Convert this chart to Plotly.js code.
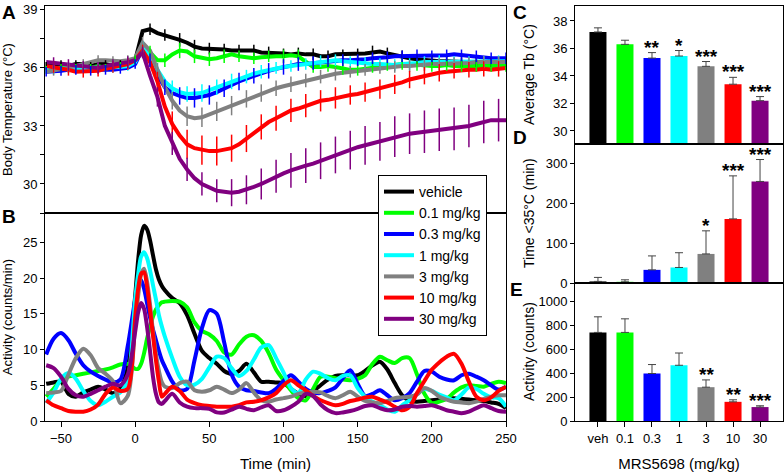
<!DOCTYPE html>
<html><head><meta charset="utf-8">
<script src="https://cdn.plot.ly/plotly-3.0.1.min.js"></script>
<style>html,body{margin:0;padding:0;background:#fff}#chart{width:784px;height:472px}</style>
</head><body><div id="chart"></div>
<script>
// ---------- data ----------
const seriesNames = ['vehicle','0.1 mg/kg','0.3 mg/kg','1 mg/kg','3 mg/kg','10 mg/kg','30 mg/kg'];
const seriesColors = ['#000000','#00ff00','#0000ff','#00ffff','#808080','#ff0000','#800080'];

// Panel A: body temperature (°C), every 5 min
const timeA = [-60,-55,-50,-45,-40,-35,-30,-25,-20,-15,-10,-5,0,5,10,15,20,25,30,35,40,45,50,55,60,65,70,75,80,85,90,95,100,105,110,115,120,125,130,135,140,145,150,155,160,165,170,175,180,185,190,195,200,205,210,215,220,225,230,235,240,245,250];
const tempVehicle = [36.1,36.1,36.2,36.1,36.2,36.2,36.1,36.2,36.2,36.1,36.2,36.3, 36.4,37.9,38.0,37.8,37.7,37.55,37.45,37.3,37.1,37.0,37.0,37.0, 36.95,36.9,36.9,36.95,36.9,36.8,36.8,36.75,36.75,36.7,36.75,36.7, 36.7,36.6,36.6,36.7,36.7,36.75,36.7,36.75,36.8,36.85,36.75,36.65, 36.6,36.5,36.45,36.4,36.4,36.35,36.35,36.3,36.3,36.3,36.3,36.3, 36.3,36.3,36.3];
const temp01 = [35.9,36.0,36.0,36.1,36.0,36.1,36.0,36.1,36.0,36.1,36.1,36.2, 36.4,37.0,36.8,36.4,36.4,36.7,36.9,36.85,36.6,36.5,36.45,36.5, 36.6,36.7,36.6,36.55,36.5,36.55,36.6,36.6,36.6,36.65,36.6,36.3, 36.05,36.05,36.1,36.05,35.95,35.9,35.9,35.95,36.05,36.1,36.15,36.2, 36.2,36.2,36.15,36.15,36.1,36.1,36.15,36.1,36.1,36.15,36.1,36.1, 36.1,36.1,36.1];
const temp03 = [35.8,35.8,35.85,35.9,35.9,35.9,35.85,35.9,35.9,35.9,35.95,36.0, 36.2,37.0,36.4,35.6,35.0,34.7,34.55,34.45,34.45,34.5,34.6,34.75, 34.95,35.1,35.3,35.45,35.6,35.75,35.85,35.95,36.05,36.15,36.2,36.2, 36.25,36.3,36.35,36.35,36.4,36.4,36.4,36.45,36.5,36.5,36.55,36.6, 36.6,36.6,36.65,36.65,36.6,36.6,36.65,36.7,36.65,36.6,36.6,36.55, 36.5,36.5,36.5];
const temp1 = [35.9,35.9,35.95,36.0,35.95,36.0,36.0,36.05,36.0,36.0,36.05,36.1, 36.3,37.1,36.6,35.9,35.3,34.95,34.75,34.65,34.65,34.7,34.85,35.0, 35.15,35.3,35.45,35.55,35.7,35.8,35.9,36.0,36.05,36.1,36.15,36.2, 36.25,36.35,36.4,36.4,36.35,36.3,36.3,36.25,36.2,36.2,36.15,36.15, 36.2,36.2,36.25,36.3,36.3,36.35,36.35,36.3,36.3,36.3,36.35,36.3, 36.35,36.35,36.35];
const temp3 = [35.8,35.85,35.9,36.0,36.1,36.2,36.35,36.4,36.4,36.35,36.35,36.4, 36.5,37.3,36.9,35.9,35.0,34.3,33.8,33.5,33.4,33.45,33.6,33.75, 33.9,34.05,34.25,34.4,34.55,34.7,34.85,34.95,35.05,35.15,35.25,35.35, 35.45,35.55,35.6,35.7,35.75,35.8,35.85,35.9,35.95,36.0,36.05,36.05, 36.1,36.1,36.15,36.15,36.2,36.2,36.2,36.25,36.25,36.25,36.3,36.3, 36.3,36.3,36.3];
const temp10 = [36.1,36.05,36.0,35.9,35.8,35.8,35.8,35.85,35.95,36.05,36.1,36.2, 36.4,36.9,36.3,35.3,34.0,33.1,32.5,32.05,31.85,31.75,31.7,31.7, 31.75,31.85,32.05,32.35,32.65,32.95,33.2,33.4,33.6,33.8,33.9,34.05, 34.15,34.3,34.35,34.45,34.55,34.6,34.65,34.75,34.85,34.9,35.0,35.15, 35.25,35.4,35.5,35.6,35.7,35.75,35.8,35.85,35.9,35.9,35.9,35.95, 35.9,35.95,36.0];
const temp30 = [36.3,36.25,36.2,36.15,36.1,36.05,36.0,36.0,36.1,36.15,36.2,36.3, 36.4,36.8,35.6,34.5,33.0,32.1,31.3,30.75,30.3,30.0,29.8,29.65, 29.6,29.55,29.6,29.7,29.85,30.0,30.2,30.4,30.55,30.7,30.85,30.95, 31.05,31.2,31.35,31.5,31.6,31.75,31.9,32.0,32.1,32.2,32.35,32.45, 32.55,32.6,32.65,32.7,32.75,32.8,32.85,32.85,32.9,33.0,33.1,33.2, 33.3,33.3,33.3];

// Panel A error bars (SEM), at every other time point (parity 0: -60,-50,...; parity 1: -55,-45,...)
const errParity = [0,0,0,1,1,1,1];
const errVehicle = [0.2,0.2,0.2,0.2,0.2,0.2, 0.2,0.3,0.3,0.35,0.35,0.3, 0.3,0.3,0.3,0.3,0.25,0.3,0.3,0.3, 0.25,0.3,0.35,0.3,0.3,0.25, 0.25,0.25,0.25,0.25,0.25,0.25];
const err01 = [0.2,0.2,0.2,0.2,0.2,0.2, 0.25,0.35,0.35,0.4,0.35,0.35, 0.35,0.3,0.3,0.3,0.35,0.35,0.3,0.3, 0.3,0.3,0.3,0.3,0.3,0.3, 0.3,0.3,0.3,0.3,0.3,0.3];
const err03 = [0.25,0.25,0.25,0.25,0.25,0.25, 0.25,0.35,0.4,0.45,0.5,0.5, 0.45,0.45,0.4,0.4,0.4,0.35,0.35,0.3, 0.3,0.3,0.3,0.3,0.3,0.3, 0.3,0.3,0.3,0.3,0.3,0.3];
const err1 = [0.25,0.25,0.25,0.25,0.25,0.25, 0.3,0.35,0.4,0.4,0.45,0.4, 0.4,0.35,0.35,0.3,0.3,0.3,0.3,0.3, 0.3,0.3,0.3,0.3,0.3,0.3,0.3,0.3,0.3,0.3,0.3];
const err3 = [0.25,0.25,0.25,0.25,0.25,0.25, 0.3,0.35,0.45,0.5,0.5,0.5, 0.5,0.45,0.45,0.4,0.4,0.35,0.35,0.35, 0.3,0.3,0.3,0.3,0.3,0.3,0.3,0.3,0.3,0.3,0.3];
const err10 = [0.3,0.3,0.3,0.3,0.3,0.3, 0.3,0.5,0.65,0.75,0.75,0.75, 0.7,0.7,0.65,0.65,0.6,0.6,0.55,0.55, 0.5,0.5,0.5,0.5,0.45,0.45,0.45,0.4,0.4,0.4,0.4];
const err30 = [0.3,0.3,0.3,0.3,0.3,0.3, 0.3,0.5,0.6,0.6,0.6,0.6, 0.7,0.75,0.8,0.85,0.9,0.9,0.95,0.95, 1.0,1.0,1.0,1.05,1.05,1.1,1.1,1.1,1.1,1.1,1.1];

// Panel B: activity (counts/min)
const timeB = [-60,-55,-50,-45,-40,-35,-30,-25,-20,-15,-10,-5, 0,2,4,6,8,10,12,14,16,18,20, 25,30,35,40,45,50,55,60,65,70,75,80,85,90,95,100,105,110,115,120,125,130,135,140,145,150,155,160,165,170,175,180,185,190,195,200,205,210,215,220,225,230,235,240,245,250];
const actVehicle = [5.2,5.4,5.5,3.8,3.4,4.0,4.4,4.8,4.4,3.9,4.6,7.5, 17.5,22.5,26,27.3,26.8,25.3,23.2,21.2,19.8,18.9,18.3, 17.2,16.5,14.8,12.2,9.8,8.8,8.0,7.0,6.6,7.0,8.0,6.8,5.5,5.5,5.4,5.3,4.5,3.8,3.5,4.2,5.0,5.8,6.3,6.4,6.4,6.4,7.0,7.8,8.3,7.2,5.3,3.6,2.8,2.7,2.8,2.9,3.0,3.2,3.2,3.1,3.0,2.9,2.8,2.6,2.4,1.8];
const act01 = [3.4,4.5,5.7,6.2,6.4,6.6,6.8,7.0,7.2,7.5,7.9,8.0, 7.3,7.3,8.0,9.5,11.5,13.2,14.6,15.6,16.2,16.6,16.7, 16.8,16.7,15.9,13.8,12.6,12.1,11.2,9.6,9.3,10.7,11.8,12.0,11.2,9.5,7.2,5.7,4.3,3.2,2.9,4.5,6.2,6.2,6.0,5.8,5.7,5.9,6.4,8.0,9.0,8.5,8.1,8.8,8.8,6.5,3.8,2.5,2.7,3.1,4.0,4.7,5.0,4.9,4.8,5.2,5.5,5.3];
const act03 = [9.3,11.5,12.3,11.3,9.4,7.8,6.9,6.3,5.8,5.4,5.8,10.5, 17,19,19.7,18.5,16.5,14.5,12.8,11.3,9.8,8.5,7.6, 5.5,4.3,4.5,8.5,13.0,15.5,15.0,11.0,6.5,4.8,4.3,4.2,4.0,3.9,4.5,5.6,6.4,5.5,4.5,4.0,3.9,4.2,4.7,6.0,7.1,5.2,3.5,3.8,4.3,3.6,2.9,3.2,3.9,5.5,7.0,6.9,6.2,5.8,5.7,6.4,6.6,6.2,5.7,5.0,4.4,4.8];
const act1 = [2.5,4.0,5.9,6.7,5.9,4.2,2.8,2.2,2.7,3.4,4.0,5.8, 17,20.5,23,23.6,22.8,21.1,19,17,14.8,13.2,11.8, 8.8,6.2,5.0,5.1,5.9,7.5,9.0,8.8,7.4,6.3,7.0,8.6,10.3,10.6,8.8,6.8,4.6,3.9,5.8,6.9,6.6,6.0,5.7,6.3,6.4,4.6,3.4,2.7,2.2,1.6,1.3,2.2,2.9,3.8,4.5,4.2,3.7,3.3,2.9,3.7,4.7,4.5,3.8,3.3,3.2,2.0];
const act3 = [3.9,4.0,4.2,6.5,8.8,10.1,9.2,7.4,6.6,5.6,2.5,3.5, 13.5,17.5,20.5,21.3,19.5,16.3,12.5,9.3,7.0,5.4,4.8, 4.6,5.3,5.5,4.3,4.1,4.3,4.8,4.4,3.9,4.4,5.3,4.0,2.9,2.7,3.0,3.2,3.4,3.8,4.0,4.1,4.0,3.5,3.2,3.6,4.1,3.4,2.8,2.6,2.5,2.8,3.2,3.3,3.4,3.7,4.6,4.2,3.4,3.0,2.7,2.6,2.5,2.7,3.1,3.4,3.6,3.6];
const act10 = [2.9,2.2,1.8,1.4,1.3,1.3,1.6,2.3,3.8,4.7,4.2,4.5, 14.5,18.5,20.6,20.8,18.8,15.5,12,8.5,5.5,3.4,3.8, 4.8,4.2,3.0,2.5,2.2,2.1,2.0,2.0,2.0,2.2,2.6,2.7,2.9,3.3,3.9,5.0,5.7,5.0,4.3,3.5,2.9,2.5,2.2,2.4,2.8,3.0,3.3,3.4,3.0,2.6,2.0,1.5,2.0,3.9,5.6,7.2,8.2,9.0,9.4,8.0,5.5,3.4,2.9,3.3,4.2,4.8];
const act30 = [7.8,7.4,6.2,4.5,3.6,3.4,3.8,4.3,4.8,5.2,5.0,6.5, 12.5,15.2,16.5,15.7,13.2,9.8,6.2,3.8,2.6,2.4,2.8, 3.8,2.6,2.0,1.8,1.8,1.7,1.2,1.2,1.6,2.0,1.7,1.5,1.9,2.2,1.4,1.5,2.0,2.7,3.8,3.5,2.3,1.5,1.1,1.2,1.4,1.7,2.1,2.2,1.8,1.5,1.6,2.0,2.1,2.0,2.1,2.2,1.9,1.5,1.3,1.1,1.3,1.8,2.2,1.8,1.4,1.3];

// Panels C-E: summary bars
const doseLabels = ['veh','0.1','0.3','1','3','10','30'];
const avgTbMean = [37.2,36.3,35.3,35.45,34.7,33.4,32.2];
const avgTbErr = [0.3,0.3,0.4,0.4,0.35,0.5,0.3];
const avgTbStars = ['','','**','*','***','***','***'];
const timeBelowMean = [4,3,33,39,73,161,255];
const timeBelowErr = [10,5,35,37,58,108,55];
const timeBelowStars = ['','','','','*','***','***'];
const activityMean = [744,744,399,468,284,161,117];
const activityErr = [131,114,75,103,61,17,11];
const activityStars = ['','','','','**','**','***'];

// ---------- build ----------
const tempSeries = [tempVehicle,temp01,temp03,temp1,temp3,temp10,temp30];
const tempErrs = [errVehicle,err01,err03,err1,err3,err10,err30];
const actSeries = [actVehicle,act01,act03,act1,act3,act10,act30];

const traces = [];
tempSeries.forEach((s,i)=>{
  traces.push({type:'scatter',mode:'lines',x:timeA,y:s,xaxis:'x',yaxis:'y',name:seriesNames[i],
    line:{color:seriesColors[i],width:4},showlegend:true,hoverinfo:'skip'});
});
tempSeries.forEach((s,i)=>{
  const p = errParity[i];
  traces.push({type:'scatter',mode:'markers',x:timeA.filter((t,k)=>k%2===p),y:s.filter((v,k)=>k%2===p),
    xaxis:'x',yaxis:'y',marker:{size:1,color:'rgba(0,0,0,0)'},showlegend:false,hoverinfo:'skip',
    error_y:{type:'data',array:tempErrs[i],visible:true,color:seriesColors[i],thickness:1.5,width:0}});
});
actSeries.forEach((s,i)=>{
  traces.push({type:'scatter',mode:'lines',x:timeB,y:s,xaxis:'x2',yaxis:'y2',name:seriesNames[i],
    line:{color:seriesColors[i],width:4,shape:'spline',smoothing:0.8},showlegend:false,hoverinfo:'skip'});
});
function barTrace(means, errs, xa, ya){
  return {type:'bar',x:doseLabels,y:means,xaxis:xa,yaxis:ya,width:0.63,showlegend:false,hoverinfo:'skip',
    marker:{color:seriesColors,line:{width:0}},
    error_y:{type:'data',symmetric:false,array:errs,arrayminus:errs.map(()=>0),visible:true,color:'#444',thickness:1,width:4}};
}
traces.push(barTrace(avgTbMean,avgTbErr,'x3','y3'));
traces.push(barTrace(timeBelowMean,timeBelowErr,'x4','y4'));
traces.push(barTrace(activityMean,activityErr,'x5','y5'));

const W=784,H=472;
const px = v=>v/W, py = v=>1-v/H;
const baseAx = {showline:true,mirror:true,linecolor:'black',linewidth:1,showgrid:false,zeroline:false,
  ticks:'outside',ticklen:4,tickcolor:'black',tickwidth:1,automargin:false,tickfont:{size:13}};

const ann = [];
function starAnn(stars, means, errs, xa, ya){
  stars.forEach((s,i)=>{ if(!s) return;
    ann.push({xref:xa,yref:ya,x:i,y:means[i]+errs[i],text:'<b>'+s+'</b>',showarrow:false,yanchor:'bottom',
      yshift:-7,font:{size:19,color:'black'}});
  });
}
starAnn(avgTbStars,avgTbMean,avgTbErr,'x3','y3');
starAnn(timeBelowStars,timeBelowMean,timeBelowErr,'x4','y4');
starAnn(activityStars,activityMean,activityErr,'x5','y5');
[['A',0,12],['B',0,216],['C',511,12],['D',511,137],['E',508,289]].forEach(l=>{
  ann.push({xref:'paper',yref:'paper',x:px(l[1]),y:py(l[2]),xanchor:'left',yanchor:'middle',text:'<b>'+l[0]+'</b>',
    showarrow:false,font:{size:19,color:'black'}});
});
[['Average Tb (°C)',75],['Time <35°C (min)',213],['Activity (counts)',352]].forEach(t=>{
  ann.push({xref:'paper',yref:'paper',x:px(529),y:py(t[1]),xanchor:'center',yanchor:'middle',textangle:-90,
    text:t[0].replace('<','&lt;'),showarrow:false,font:{size:14,color:'black'}});
});

const layout = {
  width:W,height:H,margin:{l:0,r:0,t:0,b:0},paper_bgcolor:'white',plot_bgcolor:'white',
  font:{family:'Arial, "Liberation Sans", sans-serif',size:13,color:'black'},
  showlegend:true,
  legend:{x:px(378),y:py(175),xanchor:'left',yanchor:'top',bgcolor:'white',bordercolor:'black',borderwidth:1,
    font:{size:14},traceorder:'normal',itemwidth:30},
  xaxis:Object.assign({},baseAx,{domain:[px(45),px(506)],range:[-60.8,250],anchor:'y',showticklabels:false,ticks:''}),
  yaxis:Object.assign({},baseAx,{domain:[py(213),py(6)],range:[28.5,39.2],anchor:'x',tick0:30,dtick:3,
    minor:{dtick:1.5,ticks:'outside',ticklen:4,tickcolor:'black'},
    title:{text:'Body Temperature (°C)',font:{size:13}}}),
  xaxis2:Object.assign({},baseAx,{domain:[px(45),px(506)],range:[-60.8,250],anchor:'y2',tick0:0,dtick:50,ticklen:5,
    title:{text:'Time (min)',font:{size:15}}}),
  yaxis2:Object.assign({},baseAx,{domain:[py(421),py(213)],range:[0,29.1],anchor:'x2',tick0:0,dtick:5,
    title:{text:'Activity (counts/min)',font:{size:13}}}),
  xaxis3:Object.assign({},baseAx,{domain:[px(575),px(783)],type:'category',range:[-0.85,6.85],anchor:'y3',showticklabels:false,ticks:''}),
  yaxis3:Object.assign({},baseAx,{domain:[py(144),py(6)],range:[29.05,39.09],anchor:'x3',tick0:30,dtick:2}),
  xaxis4:Object.assign({},baseAx,{domain:[px(575),px(783)],type:'category',range:[-0.85,6.85],anchor:'y4',showticklabels:false,ticks:''}),
  yaxis4:Object.assign({},baseAx,{domain:[py(283),py(144)],range:[0,349],anchor:'x4',tick0:0,dtick:100}),
  xaxis5:Object.assign({},baseAx,{domain:[px(575),px(783)],type:'category',range:[-0.85,6.85],anchor:'y5',ticklen:5,
    title:{text:'MRS5698 (mg/kg)',font:{size:15}}}),
  yaxis5:Object.assign({},baseAx,{domain:[py(421),py(283)],range:[0,1159],anchor:'x5',tick0:0,dtick:200}),
  annotations:ann
};
Plotly.newPlot('chart',traces,layout,{staticPlot:true,displayModeBar:false});
</script></body></html>
